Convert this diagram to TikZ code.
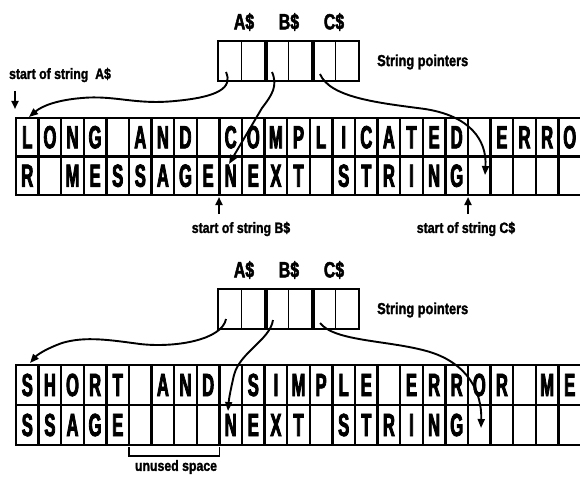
\documentclass[tikz,border=0pt]{standalone}
\usepackage{fontspec}
\setmainfont{Liberation Sans}
\newfontfamily\cellfont{Liberation Sans}[FakeStretch=0.52,FakeBold=2.5]
\newfontfamily\lblfont{Liberation Sans}[FakeStretch=0.72,FakeBold=2.2]
\newfontfamily\titlefont{Liberation Sans}[FakeStretch=0.8,FakeBold=1.6]
\newfontfamily\notefont{Liberation Sans}[FakeStretch=0.82,FakeBold=1.6]
\usetikzlibrary{arrows.meta}
\begin{document}
\begin{tikzpicture}[x=1pt,y=-1pt,
  cellt/.style={draw, line width=2.4pt, minimum width=22.6pt, minimum height=38.5pt, inner sep=0pt, font=\cellfont\bfseries\fontsize{32}{32}\selectfont},
  cellb/.style={cellt, minimum height=40pt},
  pcell/.style={draw, line width=1.8pt, minimum width=23.5pt, minimum height=40pt, inner sep=0pt},
  plabel/.style={font=\lblfont\bfseries\fontsize{22}{22}\selectfont, inner sep=0pt},
  ptitle/.style={font=\titlefont\bfseries\fontsize{16}{16}\selectfont, inner sep=0pt, anchor=west},
  note/.style={font=\notefont\bfseries\fontsize{15}{15}\selectfont, inner sep=0pt},
  ptr/.style={line width=1.9pt, -{Triangle[length=9pt,width=7pt]}},
  marker/.style={line width=2pt, -{Triangle[length=8pt,width=7pt]}}
]
\useasboundingbox (0,0) rectangle (580,476);

% ---------- top figure ----------
\foreach \i in {1,...,6} \node[pcell] (pa\i) at ({218+(\i-0.5)*23.5},61) {};
\draw[line width=3.2pt] (pa2.north east) -- (pa2.south east);
\draw[line width=3.2pt] (pa4.north east) -- (pa4.south east);
\node[plabel] (la) at (244,22) {A\$};
\node[plabel] (lb) at (289,22) {B\$};
\node[plabel] (lc) at (334,22) {C\$};
\node[ptitle] (spa) at (377,62) {String pointers};

\foreach \c [count=\i] in {L,O,N,G,{},A,N,D,{},C,O,M,P,L,I,C,A,T,E,D,{},E,R,R,O,{}}
  \node[cellt] (ta\i) at ({16+(\i-0.5)*22.6},137.25) {\c};
\foreach \c [count=\i] in {R,{},M,E,S,S,A,G,E,N,E,X,T,{},S,T,R,I,N,G,{},{},{},{},{},{}}
  \node[cellt] (tb\i) at ({16+(\i-0.5)*22.6},175.75) {\c};

\node[note] (sa) at (60,75) {start of string\ \ A\$};
\node[note] (sb) at (241,229) {start of string B\$};
\node[note] (sc) at (466,229) {start of string C\$};

\coordinate (mA1) at (15,91);  \coordinate (mA2) at (15,109);
\coordinate (mB1) at (219,214); \coordinate (mB2) at (219,197);
\coordinate (mC1) at (468,214); \coordinate (mC2) at (468,197);
\draw[marker] (mA1) -- (mA2);
\draw[marker] (mB1) -- (mB2);
\draw[marker] (mC1) -- (mC2);

\coordinate (aS) at (226,72); \coordinate (aE) at (29,117);
\coordinate (bS) at (272,72); \coordinate (bE) at (229,164);
\coordinate (cS) at (320,74); \coordinate (cE) at (485,175);
\draw[ptr] (aS) .. controls (233,88) and (218,97) .. (175,101)
  .. controls (135,105) and (115,95) .. (82,98)
  .. controls (57,100) and (42,106) .. (aE);
\draw[ptr] (bS) .. controls (278,86) and (272,95) .. (262,108) -- (bE);
\draw[ptr] (cS) .. controls (330,98) and (380,103) .. (425,109)
  .. controls (470,116) and (487,140) .. (cE);

% ---------- bottom figure ----------
\foreach \i in {1,...,6} \node[pcell] (pb\i) at ({218+(\i-0.5)*23.5},309) {};
\draw[line width=3.2pt] (pb2.north east) -- (pb2.south east);
\draw[line width=3.2pt] (pb4.north east) -- (pb4.south east);
\node[plabel] (la2) at (244,270) {A\$};
\node[plabel] (lb2) at (289,270) {B\$};
\node[plabel] (lc2) at (334,270) {C\$};
\node[ptitle] (spb) at (377,310) {String pointers};

\foreach \c [count=\i] in {S,H,O,R,T,{},A,N,D,{},S,I,M,P,L,E,{},E,R,R,O,R,{},M,E,{}}
  \node[cellb] (ba\i) at ({16+(\i-0.5)*22.6},385) {\c};
\foreach \c [count=\i] in {S,S,A,G,E,{},{},{},{},N,E,X,T,{},S,T,R,I,N,G,{},{},{},{},{},{}}
  \node[cellb] (bb\i) at ({16+(\i-0.5)*22.6},425) {\c};

\coordinate (a2S) at (226,319); \coordinate (a2E) at (30,363);
\coordinate (b2S) at (273,320); \coordinate (b2E) at (228,411);
\coordinate (c2S) at (320,323); \coordinate (c2E) at (481,428);
\draw[ptr] (a2S) .. controls (222,340) and (175,348) .. (140,344)
  .. controls (110,340) and (85,336) .. (62,343)
  .. controls (48,348) and (38,354) .. (a2E);
\draw[ptr] (b2S) .. controls (270,340) and (240,352) .. (234,375)
  .. controls (231,388) and (229,398) .. (b2E);
\draw[ptr] (c2S) .. controls (335,342) and (390,340) .. (430,352)
  .. controls (468,364) and (482,392) .. (c2E);

\coordinate (u1) at (129,447); \coordinate (u2) at (129,456);
\coordinate (u3) at (219.4,456); \coordinate (u4) at (219.4,447);
\draw[line width=1.6pt] (u1) -- (u2) -- (u3) -- (u4);
\node[note] (us) at (176,467) {unused space};
\end{tikzpicture}
\end{document}
